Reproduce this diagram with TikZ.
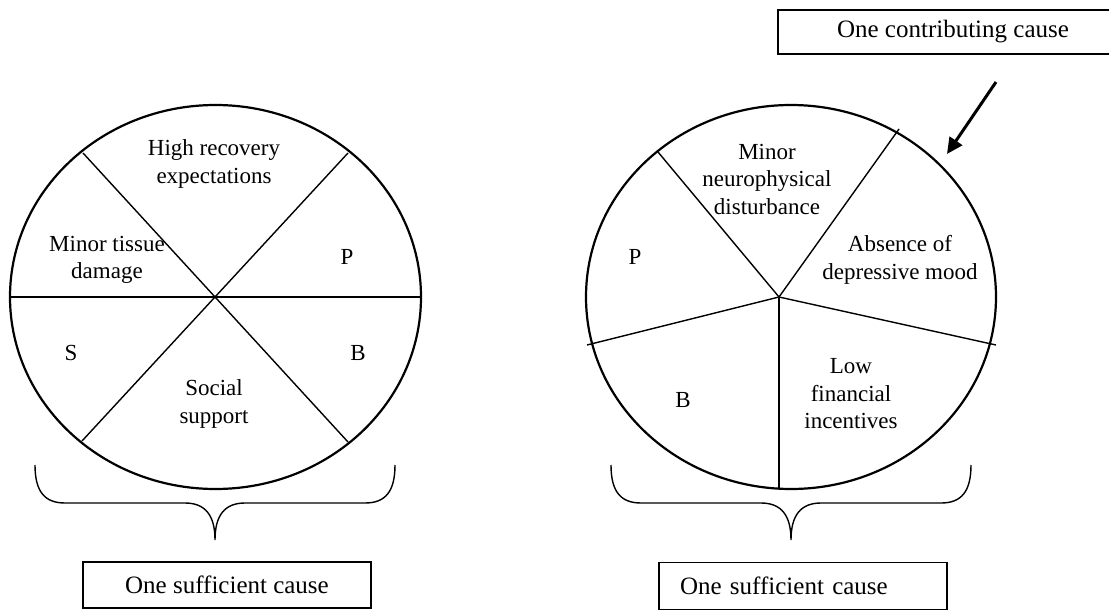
\documentclass[tikz,border=0pt]{standalone}
\usepackage{fontspec}
\setmainfont{Liberation Serif}
\usetikzlibrary{arrows.meta}
\tikzset{
  pie/.style={line width=2.2pt},
  spoke/.style={line width=1.4pt},
  txt/.style={font=\fontsize{23}{27.5}\selectfont, align=center, inner sep=0pt},
  causebox/.style={draw, line width=1.4pt, font=\fontsize{25}{30}\selectfont, inner sep=0pt, minimum height=46pt},
  brace/.style={line width=1.4pt},
  pointer/.style={line width=3pt, -{Triangle[length=16pt,width=15pt]}}
}
\begin{document}
\begin{tikzpicture}[x=1pt,y=-1pt]
\useasboundingbox (0,0) rectangle (1109,610);
\clip (0,0) rectangle (1109,610);

% ---------- left pie ----------
\coordinate (L) at (215.5,297);
\coordinate (Lc) at (215,297);
\draw[pie] (L) ellipse [x radius=205.5pt, y radius=192pt];
\coordinate (L1) at (10,297);
\coordinate (L2) at (421,297);
\coordinate (L3) at (83,153);
\coordinate (L4) at (348,442);
\coordinate (L5) at (348,153);
\coordinate (L6) at (82,441);
\draw[spoke] (L1) -- (L2);
\draw[spoke] (L3) -- (L4);
\draw[spoke] (L5) -- (L6);

\node[txt] (lhigh) at (214,164) {High recovery\\expectations};
\node[txt] (ltissue) at (107,260) {Minor tissue\\damage};
\node[txt] (lp) at (347,257) {P};
\node[txt] (ls) at (71,353) {S};
\node[txt] (lb) at (358,353) {B};
\node[txt] (lsocial) at (214,404) {Social\\support};

% ---------- right pie ----------
\coordinate (R) at (791,297);
\coordinate (Rc) at (779,297);
\draw[pie] (R) ellipse [x radius=205pt, y radius=192pt];
\coordinate (R1) at (658,152);
\coordinate (R2) at (899,129);
\coordinate (R3) at (996,345);
\coordinate (R4) at (779,488);
\coordinate (R5) at (587,345);
\foreach \e in {R1,R2,R3,R4,R5} \draw[spoke] (Rc) -- (\e);

\node[txt] (rneuro) at (767,179) {Minor\\neurophysical\\disturbance};
\node[txt] (rmood) at (900,260) {Absence of\\depressive mood};
\node[txt] (rp) at (635,257) {P};
\node[txt] (rb) at (683,400) {B};
\node[txt] (rlow) at (851,394) {Low\\financial\\incentives};

% ---------- braces ----------
\draw[brace] (35,465) .. controls (35,492) and (45,503) .. (65,503) -- (185,503)
  .. controls (205,503) and (215,515) .. (215,540)
  .. controls (215,515) and (225,503) .. (245,503) -- (365,503)
  .. controls (385,503) and (395,492) .. (395,465);
\draw[brace] (611,465) .. controls (611,492) and (621,503) .. (641,503) -- (761,503)
  .. controls (781,503) and (791,515) .. (791,540)
  .. controls (791,515) and (801,503) .. (821,503) -- (941,503)
  .. controls (961,503) and (971,492) .. (971,465);

% ---------- boxes ----------
\node[causebox, minimum width=288pt] (suffL) at (227,585) {One sufficient cause};
\node[causebox, text width=288pt, align=left, minimum height=47pt] (suffR) at (803,586) {\hspace*{21pt}One sufficient cause};
\node[causebox, minimum width=350pt, minimum height=44pt] (contrib) at (953,32) {One contributing cause};

% ---------- arrow ----------
\coordinate (aStart) at (996,82);
\coordinate (aEnd) at (947,154);
\draw[pointer] (aStart) -- (aEnd);
\end{tikzpicture}
\end{document}
